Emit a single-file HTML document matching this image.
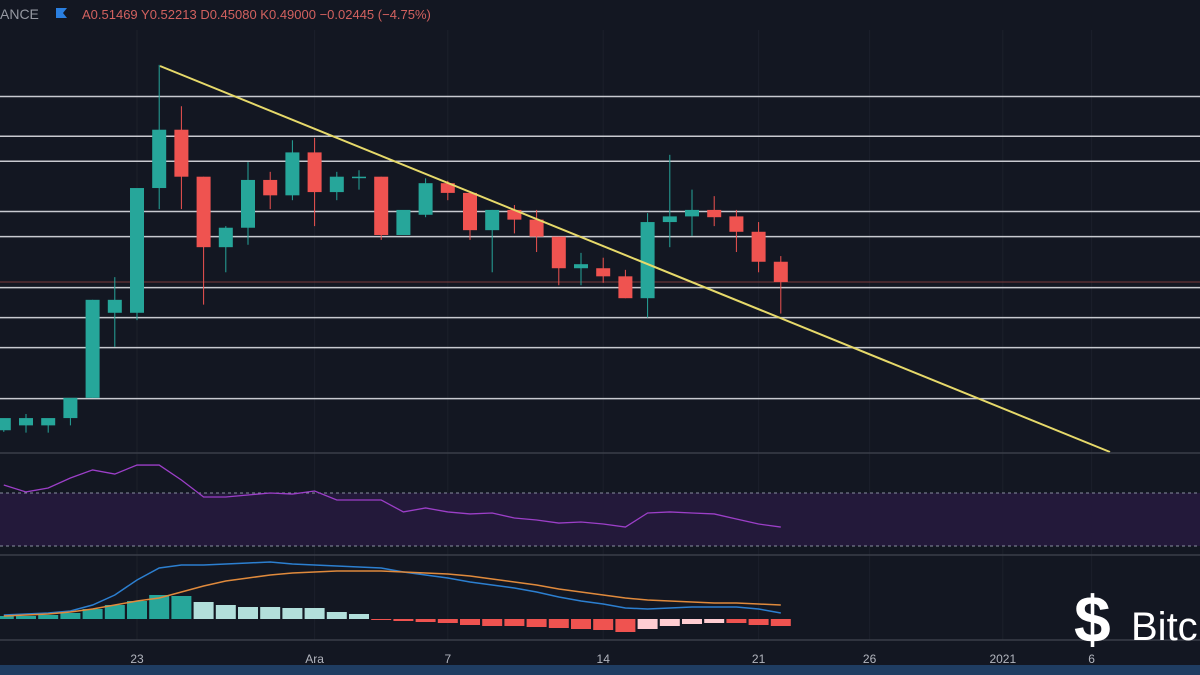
<!DOCTYPE html>
<html><head><meta charset="utf-8"><style>
body{margin:0;background:#131722;width:1200px;height:675px;overflow:hidden;font-family:"Liberation Sans",sans-serif}
svg{display:block}
</style></head><body>
<svg id="c" width="1200" height="675">
<rect width="1200" height="675" fill="#131722"/>
<g id="grid"></g>
<g id="levels"></g>
<g id="candles"></g>
<line x1="160" y1="66" x2="1110" y2="452" stroke="#e6d96a" stroke-width="2"/>
<line x1="0" y1="453" x2="1200" y2="453" stroke="#3a3e49" stroke-width="1.5"/>
<rect x="0" y="493" width="1200" height="53" fill="#23193a"/>
<line x1="0" y1="493" x2="1200" y2="493" stroke="#8a8fa0" stroke-dasharray="3 3"/>
<line x1="0" y1="546" x2="1200" y2="546" stroke="#8a8fa0" stroke-dasharray="3 3"/>
<polyline id="rsi" fill="none" stroke="#9c3fc8" stroke-width="1.3"/>
<line x1="0" y1="555" x2="1200" y2="555" stroke="#3a3e49" stroke-width="1.5"/>
<g id="hist"></g>
<polyline id="macd" fill="none" stroke="#2c7fd0" stroke-width="1.5"/>
<polyline id="sig" fill="none" stroke="#e08a3c" stroke-width="1.5"/>
<line x1="0" y1="640" x2="1200" y2="640" stroke="#3a3e49" stroke-width="1.5"/>
<g id="xaxis"></g>
<rect x="0" y="665" width="1200" height="10" fill="#1f3d62"/>
<text x="0" y="19" fill="#9598a1" font-size="14">ANCE</text>
<path d="M56 8h11l-4 5 4 5h-11z" fill="#2a7fe0"/>
<text x="82" y="19" fill="#d2615f" font-size="13">A0.51469 Y0.52213 D0.45080 K0.49000 −0.02445 (−4.75%)</text>
<g>
<text x="1074" y="642" fill="#fff" font-size="66" font-weight="bold" font-family="Liberation Sans,sans-serif">$</text>
<text x="1131" y="640" fill="#fff" font-size="40">Bitc</text>
</g>
</svg>
<script>
const days=[-6,-5,-4,-3,-2,-1,0,1,2,3,4,5,6,7,8,9,10,11,12,13,14,15,16,17,18,19,20,21,22,23,24,25,26,27,28,29];
const open=[0.307,0.313,0.313,0.322,0.347,0.452,0.452,0.606,0.678,0.620,0.533,0.557,0.616,0.597,0.650,0.601,0.620,0.620,0.548,0.573,0.612,0.600,0.554,0.579,0.567,0.546,0.507,0.507,0.497,0.470,0.564,0.571,0.579,0.571,0.552,0.515];
const high=[0.313,0.327,0.320,0.322,0.468,0.496,0.468,0.758,0.707,0.620,0.559,0.638,0.626,0.665,0.668,0.626,0.628,0.620,0.548,0.618,0.615,0.600,0.579,0.585,0.579,0.546,0.526,0.520,0.505,0.575,0.647,0.604,0.596,0.579,0.564,0.522];
const low=[0.305,0.304,0.304,0.313,0.347,0.410,0.443,0.580,0.580,0.462,0.502,0.536,0.580,0.591,0.559,0.591,0.604,0.542,0.548,0.570,0.591,0.542,0.502,0.550,0.527,0.486,0.486,0.489,0.470,0.446,0.533,0.547,0.559,0.527,0.502,0.451];
const close=[0.322,0.322,0.322,0.347,0.468,0.468,0.606,0.678,0.620,0.533,0.557,0.616,0.597,0.650,0.601,0.620,0.620,0.548,0.579,0.612,0.600,0.554,0.579,0.567,0.546,0.507,0.512,0.497,0.470,0.564,0.571,0.579,0.570,0.552,0.515,0.490];
const rsiVals=[76,70.8,73.8,81.3,87.4,84.3,91.1,91.1,79.8,67,67,68.5,70,69.2,71.5,64.7,64.7,64.7,55.7,58.7,55.7,54.2,54.9,51.1,49.6,47.3,48.1,46.6,44.3,54.9,55.7,54.9,54.2,50.4,46.6,44.3];
const histVals=[3,3,4,6,10,14,18,24,23,17,14,12,12,11,11,7,5,-1,-2,-3,-4,-6,-7,-7,-8,-9,-10,-11,-13,-10,-7,-5,-4,-4,-6,-7];
const macdVals=[4,5,6,8,14,24,39,51,54,54,55,56,57,55,54,53,52,51,47,44,41,37,34,31,27,22,18,15,11,10,11,12,12,12,10,6];
const sigVals=[3,4,5,7,10,14,18,21,27,33,38,41,44,46,47,48,48,48,47,46,45,43,40,37,34,30,27,24,21,19,18,17,16,16,15,14];
const levelPrices=[0.719,0.670,0.639,0.577,0.546,0.483,0.446,0.409,0.346];
const tickDays=[0,8,14,21,28,33,39,43];
const tickLabels=["23","Ara","7","14","21","26","2021","6"];
const NS="http://www.w3.org/2000/svg";
const X=d=>137+d*22.2;
const Y=p=>282-(p-0.49)*810;
const YR=v=>493+(70-v)*53/40;
const YM=v=>619-v*1.0;
function mk(t,a,parent){const e=document.createElementNS(NS,t);for(const k in a)e.setAttribute(k,a[k]);document.getElementById(parent).appendChild(e);return e;}
tickDays.forEach((d,i)=>{
 const g=mk('line',{x1:X(d),x2:X(d),y1:30,y2:640,stroke:'#1c202b','stroke-width':1},'grid');
 
 
 const t=mk('text',{x:X(d),y:663,fill:'#b2b5be','font-size':12,'text-anchor':'middle'},'xaxis');
 t.textContent=tickLabels[i];
 
 
});
levelPrices.forEach(p=>{
 const l=mk('line',{x1:0,x2:1200,y1:Y(p),y2:Y(p),stroke:'#c8cad0','stroke-width':1.5},'levels');
 
 
});
const pl=mk('line',{x1:0,x2:1200,y1:Y(close[close.length-1]),y2:Y(close[close.length-1]),stroke:'#7a3a3a','stroke-width':1},'levels');


let peak=false;
days.forEach((d,i)=>{
 const up=close[i]>=open[i];const col=up?'#26a69a':'#ef5350';const x=X(d);
 const w=mk('line',{x1:x,x2:x,y1:Y(high[i]),y2:Y(low[i]),stroke:col,'stroke-width':1},'candles');
 
 
 const top=Y(Math.max(open[i],close[i])),bot=Y(Math.min(open[i],close[i]));
 const b=mk('rect',{x:x-7,y:top,width:14,height:Math.max(1.5,bot-top),fill:col},'candles');
 
 
 const hv=histVals[i];
 let hc;
 if(hv>=0){hc=(i>0&&hv<=histVals[i-1]&&hv<histVals[i-2])?'#b2dfdb':'#26a69a';}else{hc=(i>0&&hv>histVals[i-1])?'#ffcdd2':'#ef5350';}
 const h=mk('rect',{x:x-10,y:hv>=0?YM(hv):YM(0),width:20,height:Math.max(1,Math.abs(hv)*1.0),fill:hc},'hist');
 
 
});
document.getElementById('rsi').setAttribute('points',days.map((d,i)=>X(d)+','+YR(rsiVals[i])).join(' '));
document.getElementById('macd').setAttribute('points',days.map((d,i)=>X(d)+','+YM(macdVals[i])).join(' '));
document.getElementById('sig').setAttribute('points',days.map((d,i)=>X(d)+','+YM(sigVals[i])).join(' '));
</script>
</body></html>
